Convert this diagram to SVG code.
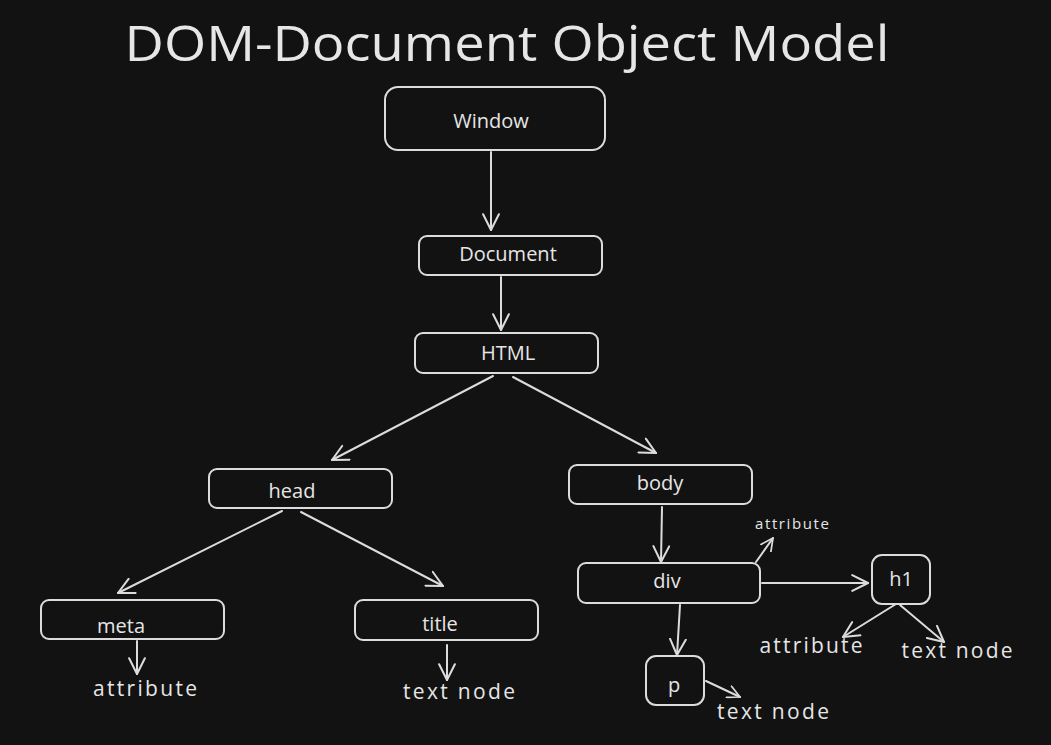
<svg xmlns="http://www.w3.org/2000/svg" width="1051" height="745" viewBox="0 0 1051 745">
<defs>
<marker id="arr" viewBox="0 0 16 16" refX="15" refY="8" markerWidth="18" markerHeight="18" markerUnits="userSpaceOnUse" orient="auto">
<path d="M1,1 L15,8 L1,15" fill="none" stroke="#dcdcdc" stroke-width="1.8" stroke-linecap="round" stroke-linejoin="round"/>
</marker>
<marker id="arrs" viewBox="0 0 16 16" refX="15" refY="8" markerWidth="14" markerHeight="14" markerUnits="userSpaceOnUse" orient="auto">
<path d="M1,1 L15,8 L1,15" fill="none" stroke="#dcdcdc" stroke-width="2" stroke-linecap="round" stroke-linejoin="round"/>
</marker>
</defs>
<style>
.box{fill:none;stroke:#dcdcdc;stroke-width:2}
.t{font-family:"Open Sans","Liberation Sans",sans-serif;fill:#e6e6e6;text-anchor:middle;dominant-baseline:central}
.n{font-size:20px}
.f{font-size:21px}
.c{stroke:#dcdcdc;stroke-width:2;fill:none;stroke-linecap:round}
</style>
<rect width="1051" height="745" fill="#121212"/>
<text class="t" x="507" y="42" font-size="50" textLength="765" lengthAdjust="spacingAndGlyphs">DOM-Document Object Model</text>
<g id="connectors">
<line class="c" x1="491" y1="152" x2="491" y2="230" marker-end="url(#arr)"/>
<line class="c" x1="501" y1="277" x2="501" y2="330" marker-end="url(#arr)"/>
<line class="c" x1="493" y1="376" x2="332" y2="460" marker-end="url(#arr)"/>
<line class="c" x1="513" y1="377" x2="656" y2="453" marker-end="url(#arr)"/>
<line class="c" x1="282" y1="511" x2="118" y2="593" marker-end="url(#arr)"/>
<line class="c" x1="301" y1="512" x2="443" y2="586" marker-end="url(#arr)"/>
<line class="c" x1="662" y1="507" x2="661" y2="562" marker-end="url(#arr)"/>
<line class="c" x1="756" y1="562" x2="773" y2="538" marker-end="url(#arrs)"/>
<line class="c" x1="762" y1="583" x2="868" y2="583" marker-end="url(#arr)"/>
<line class="c" x1="680" y1="605" x2="677" y2="655" marker-end="url(#arr)"/>
<line class="c" x1="137" y1="641" x2="137" y2="674" marker-end="url(#arr)"/>
<line class="c" x1="447" y1="645" x2="447" y2="680" marker-end="url(#arr)"/>
<line class="c" x1="896" y1="604" x2="843" y2="637" marker-end="url(#arr)"/>
<line class="c" x1="900" y1="605" x2="944" y2="642" marker-end="url(#arr)"/>
<line class="c" x1="706" y1="681" x2="740" y2="697" marker-end="url(#arrs)"/>
</g>
<g id="window"><rect class="box" x="385" y="87" width="220" height="63" rx="13"/><text class="t n" x="491" y="120">Window</text></g>
<g id="document"><rect class="box" x="419" y="236" width="183" height="39" rx="8"/><text class="t n" x="508" y="253">Document</text></g>
<g id="html"><rect class="box" x="415" y="333" width="183" height="40" rx="8"/><text class="t n" x="508" y="352">HTML</text></g>
<g id="head"><rect class="box" x="209" y="469" width="183" height="39" rx="8"/><text class="t n" x="292" y="490">head</text></g>
<g id="body"><rect class="box" x="569" y="465" width="183" height="39" rx="8"/><text class="t n" x="660" y="482">body</text></g>
<g id="div"><rect class="box" x="578" y="563" width="182" height="40" rx="8"/><text class="t n" x="667" y="580">div</text></g>
<g id="meta"><rect class="box" x="41" y="600" width="183" height="39" rx="8"/><text class="t n" x="121" y="625">meta</text></g>
<g id="title"><rect class="box" x="355" y="600" width="183" height="40" rx="8"/><text class="t n" x="440" y="623">title</text></g>
<g id="h1"><rect class="box" x="872" y="555" width="58" height="49" rx="10"/><text class="t n" x="901" y="578">h1</text></g>
<g id="p"><rect class="box" x="646" y="656" width="58" height="49" rx="10"/><text class="t n" x="674" y="684">p</text></g>
<g id="labels">
<text class="t f" x="145" y="688" textLength="104">attribute</text>
<text class="t f" x="459" y="691" textLength="112">text node</text>
<text class="t" font-size="15" x="792" y="523" textLength="74">attribute</text>
<text class="t f" x="811" y="645" textLength="103">attribute</text>
<text class="t f" x="957" y="650" textLength="111">text node</text>
<text class="t f" x="773" y="711" textLength="112">text node</text>
</g>
</svg>
